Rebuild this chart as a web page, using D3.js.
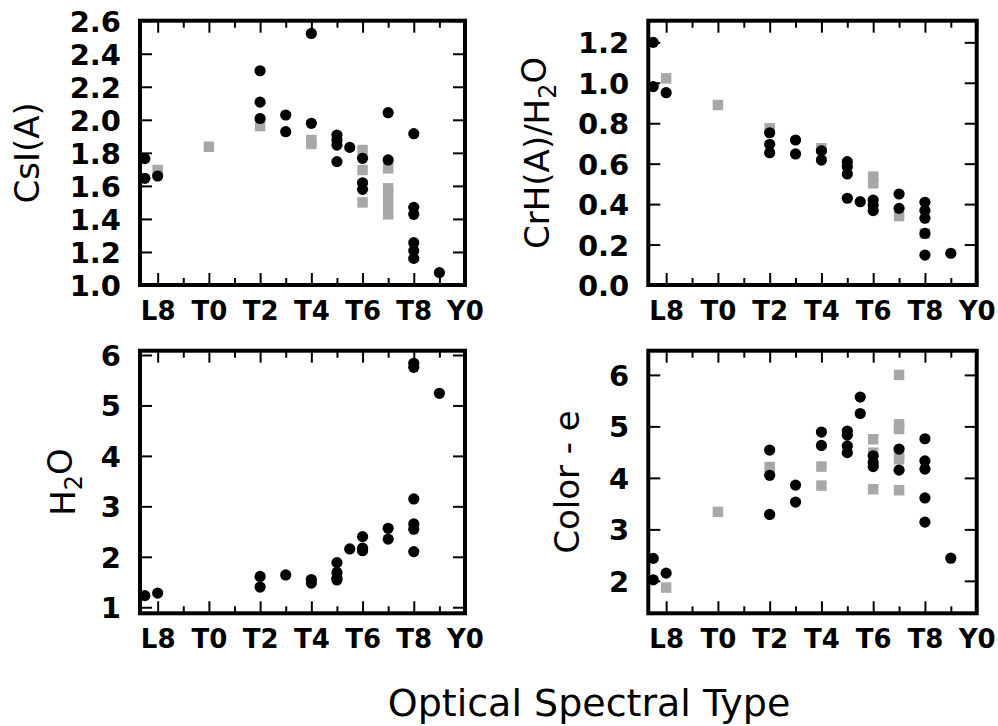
<!DOCTYPE html>
<html>
<head>
<meta charset="utf-8">
<script src="https://cdn.jsdelivr.net/npm/d3@7"></script>
<style>
  html, body { margin: 0; padding: 0; background: #fff; }
  svg { display: block; }
  text { font-family: "DejaVu Sans", sans-serif; fill: #000; }
</style>
</head>
<body>
<svg id="chart" width="998" height="726"></svg>
<script>
// Spectral type code: L0 = 0 ... L9 = 9, T0 = 10 ... T9 = 19, Y0 = 20
const typeTicks = [8, 10, 12, 14, 16, 18, 20];
const typeTickLabels = ["L8", "T0", "T2", "T4", "T6", "T8", "Y0"];
const typeMinorTicks = [9, 11, 13, 15, 17, 19];
const typeDomain = [7.31, 20];

// CsI(A) index
const csiBlack = [[7.5,1.765],[7.5,1.646],[8,1.660],[12,2.297],[12,2.107],[12,2.008],[13,2.029],[13,1.928],
  [14,2.523],[14,1.979],[15,1.908],[15,1.878],[15,1.847],[15,1.747],[15.5,1.833],[16,1.767],[16,1.619],
  [16,1.579],[17,2.043],[17,1.757],[18,1.916],[18,1.470],[18,1.428],[18,1.256],[18,1.208],[18,1.161],[19,1.075]];
const csiGray = [[8,1.696],[10,1.837],[12,1.962],[14,1.878],[14,1.854],[16,1.817],[16,1.696],[16,1.500],
  [17,1.706],[17,1.585],[17,1.545],[17,1.484],[17,1.428]];
const csiTicks = [1.0, 1.2, 1.4, 1.6, 1.8, 2.0, 2.2, 2.4, 2.6];

// CrH(A)/H2O index
const crhBlack = [[7.5,1.20],[7.5,0.981],[8,0.951],[12,0.753],[12,0.696],[12,0.654],[13,0.717],[13,0.648],
  [14,0.664],[14,0.618],[15,0.610],[15,0.585],[15,0.549],[15,0.429],[15.5,0.412],[16,0.420],[16,0.396],
  [16,0.368],[17,0.450],[17,0.379],[18,0.409],[18,0.368],[18,0.330],[18,0.255],[18,0.148],[19,0.157]];
const crhGray = [[8,1.022],[10,0.890],[12,0.775],[14,0.676],[16,0.536],[16,0.503],[17,0.341],[18,0.255]];
const crhTicks = [0.0, 0.2, 0.4, 0.6, 0.8, 1.0, 1.2];

// H2O index
const h2oBlack = [[7.5,1.23],[8,1.28],[12,1.61],[12,1.40],[13,1.64],[14,1.55],[14,1.48],[15,1.885],[15,1.69],
  [15,1.575],[15,1.54],[15.5,2.156],[16,2.40],[16,2.17],[16,2.12],[17,2.565],[17,2.35],[18,5.835],[18,5.755],
  [18,3.147],[18,2.651],[18,2.546],[18,2.103],[19,5.24]];
const h2oGray = [];
const h2oTicks = [1, 2, 3, 4, 5, 6];

// Color-e index
const colBlack = [[7.5,2.436],[7.5,2.02],[8,2.15],[12,4.54],[12,4.05],[12,3.29],[13,3.86],[13,3.53],[14,4.89],
  [14,4.63],[15,4.91],[15,4.83],[15,4.62],[15,4.49],[15.5,5.57],[15.5,5.25],[16,4.43],[16,4.30],[16,4.22],
  [17,4.56],[17,4.15],[18,4.76],[18,4.33],[18,4.17],[18,3.61],[18,3.14],[19,2.44]];
const colGray = [[8,1.87],[10,3.34],[12,4.21],[14,4.22],[14,3.85],[16,4.75],[16,4.49],[16,3.78],[17,6.0],
  [17,5.04],[17,4.95],[17,4.46],[17,4.36],[17,3.76]];
const colTicks = [2, 3, 4, 5, 6];

const panels = [
  { id: "csi", black: csiBlack, gray: csiGray, yDomain: [1.0, 2.6], yTicks: csiTicks, fmt: d3.format(".1f"),
    box: { x0: 140, x1: 465, y0: 20.7, y1: 285 }, label: [{ t: "CsI(A)" }], labelX: 27 },
  { id: "crh", black: crhBlack, gray: crhGray, yDomain: [0, 1.307], yTicks: crhTicks, fmt: d3.format(".1f"),
    box: { x0: 648.3, x1: 976.7, y0: 20.7, y1: 285 },
    label: [{ t: "CrH(A)/H" }, { t: "2", sub: true }, { t: "O" }], labelX: 537 },
  { id: "h2o", black: h2oBlack, gray: h2oGray, yDomain: [0.88, 6.085], yTicks: h2oTicks, fmt: d3.format("d"),
    box: { x0: 140, x1: 465, y0: 350.7, y1: 613.3 },
    label: [{ t: "H" }, { t: "2", sub: true }, { t: "O" }], labelX: 63 },
  { id: "col", black: colBlack, gray: colGray, yDomain: [1.37, 6.47], yTicks: colTicks, fmt: d3.format("d"),
    box: { x0: 648.3, x1: 976.7, y0: 350.7, y1: 613.3 }, label: [{ t: "Color - e" }], labelX: 567 }
];

const svg = d3.select("#chart");
const MAJOR = 12, MINOR = 7, SQ = 10.5, R = 5.6;

panels.forEach(p => {
  const b = p.box;
  const x = d3.scaleLinear().domain(typeDomain).range([b.x0, b.x1]);
  const y = d3.scaleLinear().domain(p.yDomain).range([b.y1, b.y0]);
  const g = svg.append("g").attr("class", "panel-" + p.id);

  g.append("clipPath").attr("id", "clip-" + p.id)
    .append("rect").attr("x", b.x0).attr("y", b.y0)
    .attr("width", b.x1 - b.x0).attr("height", b.y1 - b.y0);

  const marks = g.append("g").attr("clip-path", `url(#clip-${p.id})`);
  marks.selectAll("rect.sq").data(p.gray).join("rect")
    .attr("class", "sq")
    .attr("x", d => x(d[0]) - SQ / 2).attr("y", d => y(d[1]) - SQ / 2)
    .attr("width", SQ).attr("height", SQ).attr("fill", "#a8a8a8");
  marks.selectAll("circle").data(p.black).join("circle")
    .attr("cx", d => x(d[0])).attr("cy", d => y(d[1])).attr("r", R).attr("fill", "#000");

  // axes: ticks point inward on all four sides
  const xBottom = d3.axisBottom(x).tickValues(typeTicks).tickSizeInner(-MAJOR).tickSizeOuter(0)
    .tickFormat((d, k) => typeTickLabels[k]).tickPadding(16);
  const xBottomMinor = d3.axisBottom(x).tickValues(typeMinorTicks).tickSizeInner(-MINOR).tickSizeOuter(0).tickFormat("");
  const xTop = d3.axisTop(x).tickValues(typeTicks).tickSizeInner(-MAJOR).tickSizeOuter(0).tickFormat("");
  const xTopMinor = d3.axisTop(x).tickValues(typeMinorTicks).tickSizeInner(-MINOR).tickSizeOuter(0).tickFormat("");
  const yLeft = d3.axisLeft(y).tickValues(p.yTicks).tickSizeInner(-MAJOR).tickSizeOuter(0)
    .tickFormat(p.fmt).tickPadding(19);
  const yRight = d3.axisRight(y).tickValues(p.yTicks).tickSizeInner(-MAJOR).tickSizeOuter(0).tickFormat("");

  const axes = [
    [xBottom, `translate(0,${b.y1})`, "xb"], [xBottomMinor, `translate(0,${b.y1})`, "xbm"],
    [xTop, `translate(0,${b.y0})`, "xt"], [xTopMinor, `translate(0,${b.y0})`, "xtm"],
    [yLeft, `translate(${b.x0},0)`, "yl"], [yRight, `translate(${b.x1},0)`, "yr"]
  ];
  axes.forEach(([ax, tr, cls]) => {
    const a = g.append("g").attr("class", cls).attr("transform", tr).call(ax);
    a.select(".domain").remove();
    a.selectAll(".tick line").attr("stroke", "#000").attr("stroke-width", 2);
    a.selectAll(".tick text").attr("font-family", "DejaVu Sans").attr("font-weight", "bold")
      .attr("fill", "#000");
  });
  g.select(".yl").selectAll(".tick text").attr("font-size", 29).attr("dy", "0.36em");
  g.select(".xb").selectAll(".tick text").attr("font-size", 26).attr("dy", "0.72em");

  g.append("rect").attr("x", b.x0).attr("y", b.y0)
    .attr("width", b.x1 - b.x0).attr("height", b.y1 - b.y0)
    .attr("fill", "none").attr("stroke", "#000").attr("stroke-width", 4);

  // rotated axis title with optional subscript
  const cy = (b.y0 + b.y1) / 2;
  const t = g.append("text").attr("font-size", 34)
    .attr("text-anchor", "middle")
    .attr("transform", `translate(${p.labelX},${cy}) rotate(-90)`)
    .attr("dy", "0.36em");
  p.label.forEach((part, k) => {
    const s = t.append("tspan").text(part.t);
    if (part.sub) s.attr("font-size", 24).attr("dy", "0.3em");
    else if (k > 0) s.attr("dy", "-0.3em");
  });
});

svg.append("text").attr("x", 589).attr("y", 716).attr("text-anchor", "middle")
  .attr("font-size", 38).text("Optical Spectral Type");
</script>
</body>
</html>
